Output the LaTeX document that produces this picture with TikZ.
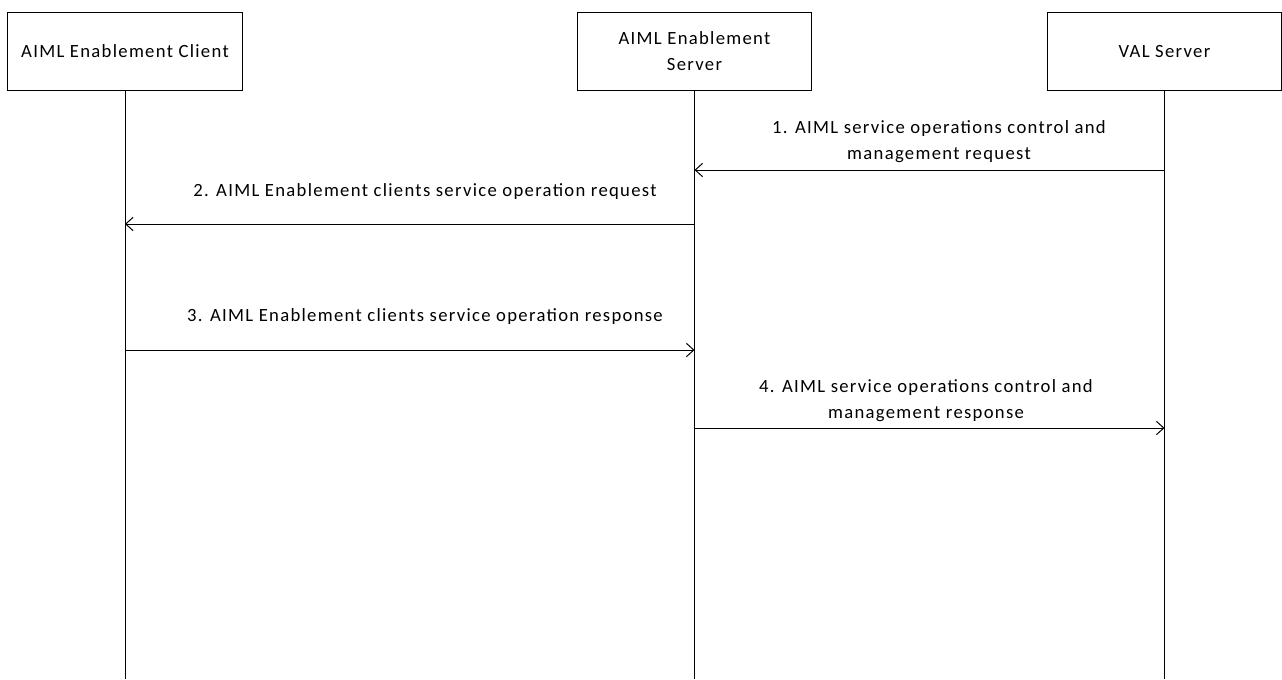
\documentclass[tikz,border=0pt]{standalone}
\usepackage{fontspec}
\setmainfont{Carlito}[LetterSpace=7]
\usetikzlibrary{positioning,arrows.meta}

\begin{document}
\begin{tikzpicture}[
  x=0.75pt, y=-0.75pt,
  font=\fontsize{14pt}{19.5pt}\selectfont,
  entity/.style={draw, line width=0.75pt, minimum width=176pt, minimum height=59pt,
                 align=center, inner sep=2pt},
  lifeline/.style={line width=0.75pt},
  msg/.style={-{Straight Barb[length=5.5pt, width=10pt]}, line width=0.75pt},
  lbl/.style={align=center, inner sep=0pt},
]
  \useasboundingbox (0,0) rectangle (1282,679);

  % participants
  \node[entity] (client) at (125,51.5) {AIML Enablement Client};
  \node[entity] (server) at (694.5,51.5) {AIML Enablement\\ Server};
  \node[entity] (val) at (1164.5,51.5) {VAL Server};

  % lifelines
  \coordinate (clientend) at (client.south |- 0,679);
  \coordinate (serverend) at (server.south |- 0,679);
  \coordinate (valend) at (val.south |- 0,679);
  \draw[lifeline] (client.south) -- (clientend);
  \draw[lifeline] (server.south) -- (serverend);
  \draw[lifeline] (val.south) -- (valend);

  % message points
  \coordinate (v1) at (val.south |- 0,170);
  \coordinate (s1) at (server.south |- 0,170);
  \coordinate (s2) at (server.south |- 0,224);
  \coordinate (c2) at (client.south |- 0,224);
  \coordinate (c3) at (client.south |- 0,350);
  \coordinate (s3) at (server.south |- 0,350);
  \coordinate (s4) at (server.south |- 0,428);
  \coordinate (v4) at (val.south |- 0,428);

  % messages
  \draw[msg] (v1) -- (s1);
  \node[lbl] (req1) at (939,141.5) {1. AIML service operations control and\\ management request};
  \draw[msg] (s2) -- (c2);
  \node[lbl] (req2) at (425,192) {2. AIML Enablement clients service operation request};
  \draw[msg] (c3) -- (s3);
  \node[lbl] (resp3) at (425,317) {3. AIML Enablement clients service operation response};
  \draw[msg] (s4) -- (v4);
  \node[lbl] (resp4) at (926,401) {4. AIML service operations control and\\ management response};
\end{tikzpicture}
\end{document}
